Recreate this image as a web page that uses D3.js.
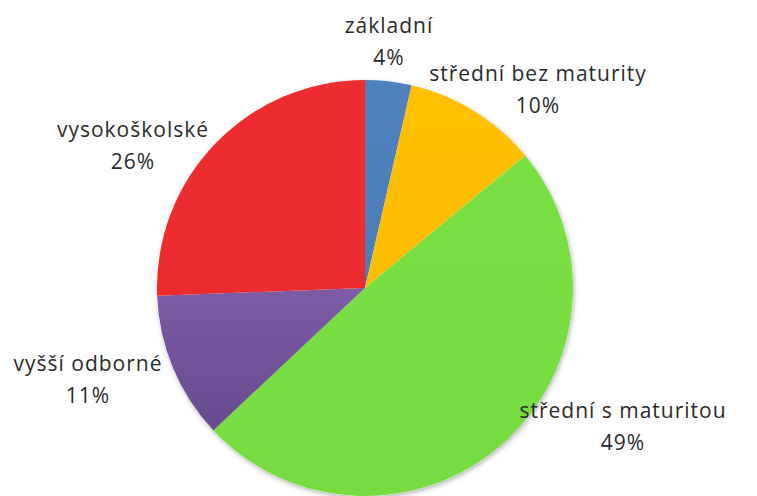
<!DOCTYPE html>
<html lang="cs">
<head>
	<meta charset="UTF-8">
	<script src="https://d3js.org/d3.v7.min.js"></script>
	<title>Vzdělání</title>
	<style>
		body{ margin:0; background:#fff; }
		.label{
			font-family: "Open Sans", sans-serif;
			font-size: 21px;
			letter-spacing: 1px;
			fill: #2b2b2b;
		}
	</style>
</head>
<body>
<script>
	const width = 757, height = 496;
	const categories = ["základní", "střední bez maturity", "střední s maturitou", "vyšší odborné", "vysokoškolské"];
	const values = [3.6, 10.4, 49.0, 11.4, 25.6];
	const percentLabels = ["4%", "10%", "49%", "11%", "26%"];
	const colors = ["#4F81BD", "#FFC000", "#7AE043", "#7D5BA6", "#EE2D30"];
	const colorsDark = ["#4A79B1", "#FABB00", "#76DC40", "#5E4382", "#E8292B"];
	// label anchor points (Excel "best fit" places them by hand)
	const labelPos = [[389, 33], [538, 81], [623, 418], [88, 371], [133, 137]];

	const cx = 365, cy = 288, r = 208;

	const svg = d3.select("body").append("svg")
		.attr("width", width)
		.attr("height", height);

	const defs = svg.append("defs");
	const shadow = defs.append("filter").attr("id", "shadow")
		.attr("x", "-10%").attr("y", "-10%").attr("width", "120%").attr("height", "120%");
	shadow.append("feDropShadow")
		.attr("dx", 1).attr("dy", 2).attr("stdDeviation", 2.5)
		.attr("flood-color", "#000").attr("flood-opacity", 0.3);

	colors.forEach(function(c, i){
		const g = defs.append("linearGradient")
			.attr("id", "grad" + i)
			.attr("gradientUnits", "userSpaceOnUse")
			.attr("x1", 0).attr("y1", -r).attr("x2", 0).attr("y2", r);
		g.append("stop").attr("offset", "0%").attr("stop-color", c);
		g.append("stop").attr("offset", i === 3 ? "50%" : "100%").attr("stop-color", i === 3 ? c : colorsDark[i]);
		g.append("stop").attr("offset", "100%").attr("stop-color", colorsDark[i]);
	});

	const pie = d3.pie().sort(null).value(function(d){ return d; });
	const arc = d3.arc().innerRadius(0).outerRadius(r);

	const g = svg.append("g")
		.attr("transform", "translate(" + cx + "," + cy + ")");

	g.append("circle").attr("r", r).attr("fill", "#fff").attr("filter", "url(#shadow)");

	g.selectAll(".slice")
		.data(pie(values))
		.enter()
		.append("path")
		.attr("class", "slice")
		.attr("d", arc)
		.attr("fill", function(d, i){ return "url(#grad" + i + ")"; });

	const labels = svg.selectAll(".lbl")
		.data(categories)
		.enter()
		.append("text")
		.attr("class", "label")
		.attr("text-anchor", "middle")
		.attr("transform", function(d, i){ return "translate(" + labelPos[i][0] + "," + labelPos[i][1] + ")"; });
	labels.append("tspan").attr("x", 0).attr("y", 0).text(function(d){ return d; });
	labels.append("tspan").attr("x", 0).attr("y", 32).text(function(d, i){ return percentLabels[i]; });
</script>
</body>
</html>
